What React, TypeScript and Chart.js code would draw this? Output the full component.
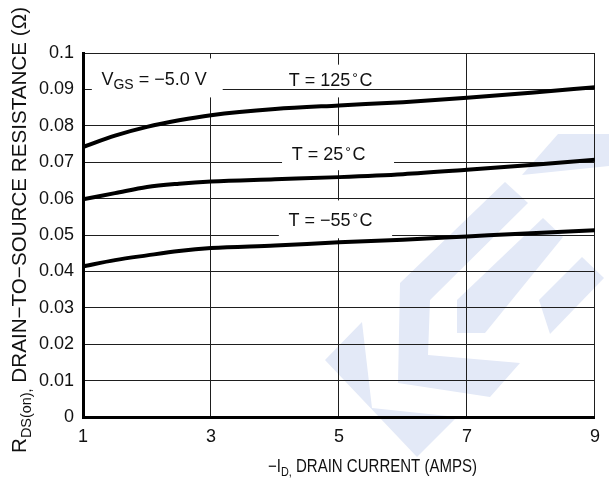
import React, { useEffect, useRef } from "react";
import { Chart, registerables } from "chart.js";

Chart.register(...registerables);

// ---------------- data ----------------
const drainCurrent = [1, 1.5, 2, 2.5, 3, 4, 5, 6, 7, 8, 9];
const rds125 = [0.0742, 0.0773, 0.0797, 0.0815, 0.0829, 0.0846, 0.0856, 0.0865, 0.0877, 0.0891, 0.0906];
const rds25 = [0.0598, 0.0615, 0.0632, 0.0641, 0.0647, 0.0653, 0.0659, 0.0667, 0.0679, 0.0692, 0.0707];
const rdsM55 = [0.0414, 0.0431, 0.0444, 0.0456, 0.0464, 0.0471, 0.048, 0.0487, 0.0496, 0.0505, 0.0513];
const seriesTemps = ["125", "25", "−55"];
const xTickValues = [1, 3, 5, 7, 9];
const xTickLabels = ["1", "3", "5", "7", "9"];
const yTickValues = [0, 0.01, 0.02, 0.03, 0.04, 0.05, 0.06, 0.07, 0.08, 0.09, 0.1];
const yTickLabels = ["0", "0.01", "0.02", "0.03", "0.04", "0.05", "0.06", "0.07", "0.08", "0.09", "0.1"];

// ---------------- styling / annotation layout ----------------
const FONT = '"Liberation Sans", Arial, Helvetica, sans-serif';
const GRID = "#1e1e1e";
const TEXT = "#111";
const WM_COLOR = "#e3e9f7";

// white label boxes (data coordinates)
const MASKS = [
  { x0: 1.138, x1: 3.185, y0: 0.0878, y1: 0.0985 },
  { x0: 4.06, x1: 5.75, y0: 0.0878, y1: 0.0968 },
  { x0: 4.11, x1: 5.86, y0: 0.0678, y1: 0.0774 },
  { x0: 4.06, x1: 5.83, y0: 0.0491, y1: 0.0595 },
];
const UNDERLINE_FROM = 3.185;
const UNDERLINE_VALUE = 0.09;

// text anchors (left x, baseline y) in data coordinates
const VGS_POS = { x: 1.288, y: 0.0911 };
const TEMP_POS = [
  { x: 4.215, y: 0.0908 },
  { x: 4.262, y: 0.0707 },
  { x: 4.21, y: 0.0524 },
];

// watermark polygons (page pixels)
const WATERMARK: number[][][] = [
  [[522, 175], [558, 134], [609, 134], [609, 166]],
  [[505, 182], [528, 203], [430, 300], [428, 355], [520, 363], [490, 397], [398, 383], [400, 283]],
  [[543, 218], [563, 237], [485, 333], [457, 333], [457, 300]],
  [[582, 257], [604, 278], [550, 334], [539, 300]],
  [[362, 322], [372, 408], [457, 417], [417, 457], [325, 360]],
];

type Run = { t: string; size: number; dy?: number; gap?: number };

function runsWidth(ctx: CanvasRenderingContext2D, runs: Run[]) {
  let w = 0;
  for (const r of runs) {
    ctx.font = `${r.size}px ${FONT}`;
    w += (r.gap || 0) + ctx.measureText(r.t).width;
  }
  return w;
}

function drawRuns(ctx: CanvasRenderingContext2D, runs: Run[], x: number, y: number) {
  let cx = x;
  for (const r of runs) {
    cx += r.gap || 0;
    ctx.font = `${r.size}px ${FONT}`;
    ctx.fillText(r.t, cx, y + (r.dy || 0));
    cx += ctx.measureText(r.t).width;
  }
}

const Y_TITLE_RUNS: Run[] = [
  { t: "R", size: 20 },
  { t: "DS(on),", size: 14, dy: 5 },
  { t: " DRAIN−TO−SOURCE RESISTANCE (Ω)", size: 20 },
];
const Y_TITLE = { baselineX: 25.5, startY: 453, length: 446 };

const X_TITLE_RUNS: Run[] = [
  { t: "−I", size: 18 },
  { t: "D,", size: 13, dy: 4 },
  { t: " DRAIN CURRENT (AMPS)", size: 18 },
];
const X_TITLE = { startX: 268, baselineY: 472, length: 209 };

const decorPlugin = {
  id: "decor",
  beforeDraw(chart: any) {
    const { ctx, width, height } = chart;
    ctx.save();
    ctx.fillStyle = "#fff";
    ctx.fillRect(0, 0, width, height);
    ctx.fillStyle = WM_COLOR;
    for (const poly of WATERMARK) {
      ctx.beginPath();
      poly.forEach(([px, py], i) => (i ? ctx.lineTo(px, py) : ctx.moveTo(px, py)));
      ctx.closePath();
      ctx.fill();
    }
    ctx.restore();
  },
  beforeDatasetsDraw(chart: any) {
    const { ctx, chartArea } = chart;
    const xs = chart.scales.x;
    const ys = chart.scales.y;
    ctx.save();
    ctx.fillStyle = "#fff";
    for (const m of MASKS) {
      const a = xs.getPixelForValue(m.x0);
      const b = xs.getPixelForValue(m.x1);
      const t = ys.getPixelForValue(m.y1);
      const bt = ys.getPixelForValue(m.y0);
      ctx.fillRect(a, t, b - a, bt - t);
    }
    const yy = Math.round(ys.getPixelForValue(UNDERLINE_VALUE) - 0.5) + 0.5;
    ctx.strokeStyle = GRID;
    ctx.lineWidth = 1;
    ctx.beginPath();
    ctx.moveTo(xs.getPixelForValue(UNDERLINE_FROM), yy);
    ctx.lineTo(chartArea.right, yy);
    ctx.stroke();
    ctx.restore();
  },
  afterDatasetsDraw(chart: any) {
    const { ctx } = chart;
    const xs = chart.scales.x;
    const ys = chart.scales.y;
    ctx.save();
    ctx.fillStyle = TEXT;
    ctx.textAlign = "left";
    ctx.textBaseline = "alphabetic";
    drawRuns(
      ctx,
      [
        { t: "V", size: 18 },
        { t: "GS", size: 14, dy: 4 },
        { t: " = −5.0 V", size: 18 },
      ],
      xs.getPixelForValue(VGS_POS.x),
      ys.getPixelForValue(VGS_POS.y)
    );
    seriesTemps.forEach((temp, i) => {
      drawRuns(
        ctx,
        [
          { t: `T = ${temp}`, size: 18 },
          { t: "°", size: 14, dy: -3, gap: 2 },
          { t: "C", size: 18, gap: 1.5 },
        ],
        xs.getPixelForValue(TEMP_POS[i].x),
        ys.getPixelForValue(TEMP_POS[i].y)
      );
    });
    ctx.restore();
  },
  afterDraw(chart: any) {
    const { ctx } = chart;
    ctx.save();
    ctx.fillStyle = TEXT;
    ctx.textAlign = "left";
    ctx.textBaseline = "alphabetic";
    // y title
    ctx.save();
    ctx.translate(Y_TITLE.baselineX, Y_TITLE.startY);
    ctx.rotate(-Math.PI / 2);
    const wy = runsWidth(ctx, Y_TITLE_RUNS);
    ctx.scale(Y_TITLE.length / wy, 1);
    drawRuns(ctx, Y_TITLE_RUNS, 0, 0);
    ctx.restore();
    // x title
    ctx.save();
    ctx.translate(X_TITLE.startX, X_TITLE.baselineY);
    const wx = runsWidth(ctx, X_TITLE_RUNS);
    ctx.scale(X_TITLE.length / wx, 1);
    drawRuns(ctx, X_TITLE_RUNS, 0, 0);
    ctx.restore();
    ctx.restore();
  },
};

export default function App() {
  const ref = useRef<HTMLCanvasElement>(null);
  useEffect(() => {
    document.body.style.margin = "0";
    const seriesValues = [rds125, rds25, rdsM55];
    const chart = new Chart(ref.current as HTMLCanvasElement, {
      type: "line",
      data: {
        datasets: seriesValues.map((vals, i) => ({
          label: `T = ${seriesTemps[i]}°C`,
          data: drainCurrent.map((x, j) => ({ x, y: vals[j] })),
          borderColor: "#000",
          borderWidth: 4,
          pointRadius: 0,
          cubicInterpolationMode: "monotone",
          fill: false,
        })),
      },
      options: {
        responsive: false,
        animation: false,
        devicePixelRatio: 1,
        events: [],
        layout: { padding: { top: 53, right: 6, left: 0, bottom: 0 } },
        plugins: {
          legend: { display: false },
          tooltip: { enabled: false },
          title: { display: false },
        },
        scales: {
          x: {
            type: "linear",
            min: 1,
            max: 9,
            afterBuildTicks: (s: any) => {
              s.ticks = xTickValues.map((v) => ({ value: v }));
            },
            afterFit: (s: any) => {
              s.height = 66;
            },
            ticks: {
              callback: (_v: any, i: number) => xTickLabels[i],
              font: { size: 18, family: FONT },
              color: TEXT,
              padding: 9,
              maxRotation: 0,
              autoSkip: false,
            },
            grid: { color: GRID, lineWidth: 1, drawTicks: false },
            border: { display: true, color: "#000", width: 3 },
          },
          y: {
            type: "linear",
            min: 0,
            max: 0.1,
            afterBuildTicks: (s: any) => {
              s.ticks = yTickValues.map((v) => ({ value: v }));
            },
            afterFit: (s: any) => {
              s.width = 83;
            },
            ticks: {
              callback: (_v: any, i: number) => yTickLabels[i],
              font: { size: 18, family: FONT },
              color: TEXT,
              padding: 9,
              autoSkip: false,
            },
            grid: { color: GRID, lineWidth: 1, drawTicks: false },
            border: { display: true, color: "#000", width: 3 },
          },
        },
      } as any,
      plugins: [decorPlugin],
    } as any);
    return () => chart.destroy();
  }, []);
  return (
    <div style={{ width: 609, height: 483, position: "relative" }}>
      <canvas ref={ref} width={609} height={483} style={{ display: "block" }} />
    </div>
  );
}
